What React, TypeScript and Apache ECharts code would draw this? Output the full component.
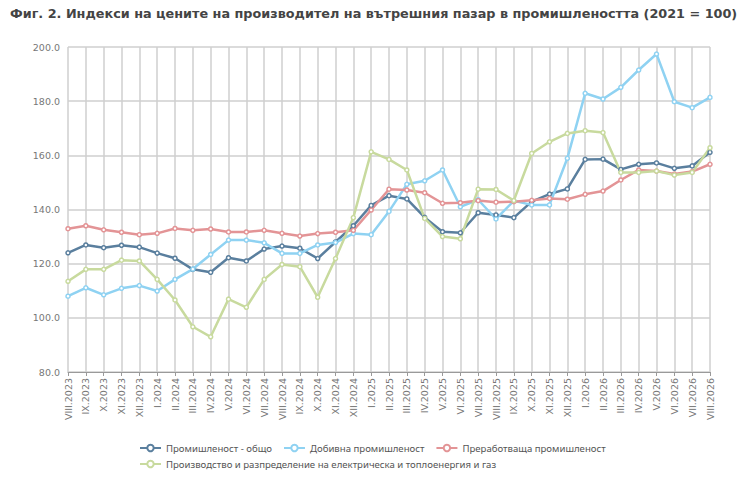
import { useEffect, useRef } from 'react';
import * as echarts from 'echarts';

const months = [
  'VIII.2023', 'IX.2023', 'X.2023', 'XI.2023', 'XII.2023',
  'I.2024', 'II.2024', 'III.2024', 'IV.2024', 'V.2024', 'VI.2024', 'VII.2024',
  'VIII.2024', 'IX.2024', 'X.2024', 'XI.2024', 'XII.2024',
  'I.2025', 'II.2025', 'III.2025', 'IV.2025', 'V.2025', 'VI.2025', 'VII.2025',
  'VIII.2025', 'IX.2025', 'X.2025', 'XI.2025', 'XII.2025',
  'I.2026', 'II.2026', 'III.2026', 'IV.2026', 'V.2026', 'VI.2026', 'VII.2026',
  'VIII.2026',
];

const industryTotal = [
  124.0, 126.9, 125.9, 126.8, 126.1, 123.9, 122.0, 117.9, 116.8, 122.2, 121.0, 125.4,
  126.5, 125.7, 121.9, 128.0, 134.0, 141.5, 145.1, 143.9, 137.1, 131.8, 131.4, 138.8,
  138.0, 137.0, 142.9, 145.7, 147.6, 158.5, 158.6, 154.8, 156.7, 157.2, 155.2, 156.1,
  161.1,
];

const mining = [
  108.0, 111.1, 108.5, 110.9, 111.9, 109.9, 114.2, 118.0, 123.4, 128.7, 128.7, 127.7,
  123.8, 123.8, 126.9, 127.8, 131.1, 130.7, 139.3, 149.3, 150.6, 154.6, 141.0, 143.6,
  136.5, 143.2, 141.7, 141.7, 158.9, 182.9, 180.8, 185.1, 191.5, 197.4, 179.8, 177.6,
  181.4,
];

const manufacturing = [
  132.9, 134.0, 132.5, 131.6, 130.7, 131.2, 133.0, 132.3, 132.8, 131.7, 131.7, 132.3,
  131.2, 130.2, 131.1, 131.6, 132.3, 139.8, 147.5, 147.2, 146.2, 142.3, 142.5, 143.3,
  142.7, 142.9, 143.4, 144.1, 143.8, 145.6, 146.8, 150.9, 154.6, 154.2, 153.1, 154.0,
  156.7,
];

const energy = [
  113.5, 117.9, 117.9, 121.3, 121.0, 114.2, 106.6, 96.7, 93.0, 106.9, 103.9, 114.2,
  119.7, 118.9, 107.6, 121.9, 137.0, 161.3, 158.5, 154.6, 136.7, 130.0, 129.2, 147.5,
  147.4, 143.3, 160.7, 165.0, 168.1, 169.1, 168.4, 153.7, 153.7, 154.2, 152.7, 153.7,
  162.8,
];

const seriesDefs = [
  { name: 'Промишленост - общо', data: industryTotal, color: '#5a7f9e' },
  { name: 'Добивна промишленост', data: mining, color: '#8fd2f2' },
  { name: 'Преработваща промишленост', data: manufacturing, color: '#e39496' },
  { name: 'Производство и разпределение на електрическа и топлоенергия и газ', data: energy, color: '#c8da9e' },
];

// legend is split in two rows like the original
const legendBase = {
  left: 134,
  itemWidth: 21,
  itemHeight: 8,
  itemGap: 11,
  textStyle: { fontSize: 9.6, color: '#555555', fontFamily: 'Noto Sans' },
};

function App() {
  const chartRef = useRef<HTMLDivElement>(null);

  useEffect(() => {
    document.body.style.margin = '0';
    if (!chartRef.current) return;
    const chart = echarts.init(chartRef.current, null, { renderer: 'svg' });

    const option: echarts.EChartsOption = {
      animation: false,
      backgroundColor: '#ffffff',
      textStyle: { fontFamily: 'DejaVu Sans' },
      title: {
        text: 'Фиг. 2. Индекси на цените на производител на вътрешния пазар в промишлеността (2021 = 100)',
        left: 5,
        top: 2,
        textStyle: { fontSize: 12.8, fontWeight: 'bold', color: '#444444', fontFamily: 'DejaVu Sans' },
      },
      grid: { left: 68, right: 30, top: 47, bottom: 107 },
      legend: [
        { ...legendBase, top: 438, data: seriesDefs.slice(0, 3).map((s) => s.name) },
        { ...legendBase, top: 454, data: seriesDefs.slice(3).map((s) => s.name) },
      ],
      xAxis: {
        type: 'category',
        data: months,
        boundaryGap: false,
        axisLine: { lineStyle: { color: '#9a9a9a' } },
        axisTick: { alignWithLabel: true, length: 4, lineStyle: { color: '#9a9a9a' } },
        axisLabel: { rotate: 90, interval: 0, fontSize: 9.5, color: '#777777', margin: 6 },
        splitLine: { show: true, lineStyle: { color: '#cfcfcf', width: 1.5 } },
      },
      yAxis: {
        type: 'value',
        min: 80,
        max: 200,
        interval: 20,
        axisLine: { show: false },
        axisTick: { show: false },
        axisLabel: { fontSize: 9.5, color: '#777777', formatter: (v: number) => v.toFixed(1) },
        splitLine: { lineStyle: { color: '#cfcfcf', width: 1.5 } },
      },
      series: seriesDefs.map((s) => ({
        name: s.name,
        type: 'line',
        data: s.data,
        symbol: 'circle',
        symbolSize: 4,
        showSymbol: true,
        itemStyle: { color: '#ffffff', borderColor: s.color, borderWidth: 1.5 },
        lineStyle: { color: s.color, width: 2.5 },
      })),
    };

    chart.setOption(option);

    return () => {
      chart.dispose();
    };
  }, []);

  return <div ref={chartRef} style={{ width: '740px', height: '479px' }} />;
}

export default App;
